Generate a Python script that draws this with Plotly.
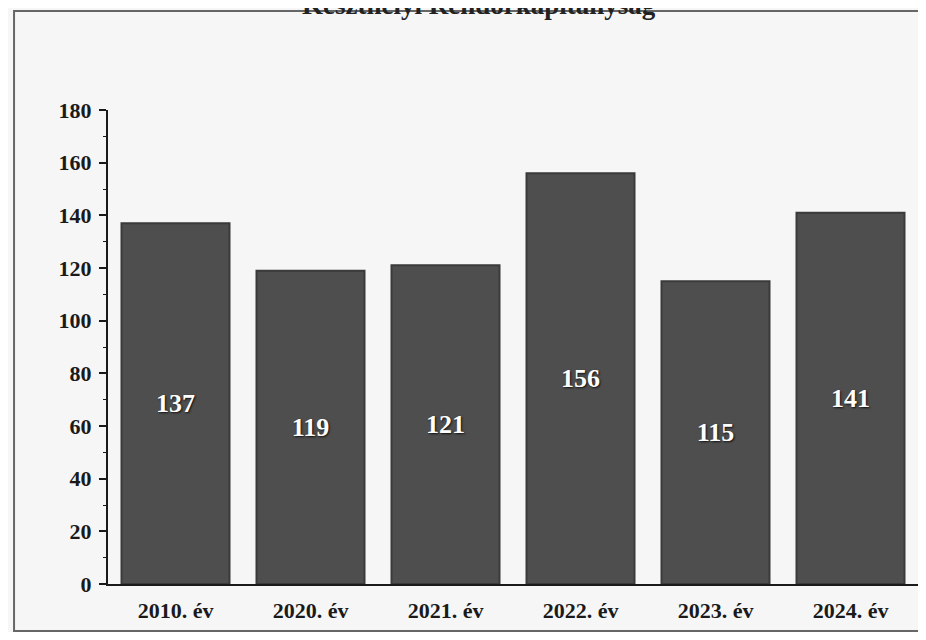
import plotly.graph_objects as go

categories = ["2010. év", "2020. év", "2021. év", "2022. év", "2023. év", "2024. év"]
values = [137, 119, 121, 156, 115, 141]
y_ticks = [0, 20, 40, 60, 80, 100, 120, 140, 160, 180]
title_text = "Keszthelyi Rendőrkapitányság"

serif = "Liberation Serif, Times New Roman, serif"

fig = go.Figure(
    go.Bar(
        x=categories,
        y=values,
        text=[str(v) for v in values],
        textposition="inside",
        insidetextanchor="middle",
        textangle=0,
        textfont=dict(family=serif, size=26, color="white", weight="bold",
                      shadow="1px 1px 2px #111"),
        marker=dict(color="#4e4e4e", line=dict(color="#3a3a3a", width=2)),
        hoverinfo="skip",
    )
)

fig.update_layout(
    width=912,
    height=624,
    margin=dict(l=100, r=2, t=102, b=48),
    paper_bgcolor="#f6f6f6",
    plot_bgcolor="rgba(0,0,0,0)",
    bargap=0.2,
    showlegend=False,
    font=dict(family=serif, color="#1a1a1a"),
)

fig.add_annotation(
    text=title_text, xref="paper", yref="paper", x=0.458, y=1.186,
    xanchor="center", yanchor="bottom", showarrow=False,
    font=dict(family=serif, size=27, color="#222", weight="bold"),
)

fig.update_xaxes(
    showline=True, linecolor="#1a1a1a", linewidth=2,
    ticks="", ticklabelstandoff=6,
    tickfont=dict(family=serif, size=22, weight="bold", color="#1a1a1a"),
    showgrid=False,
)
fig.update_yaxes(
    range=[0, 180],
    tickvals=y_ticks,
    showline=True, linecolor="#1a1a1a", linewidth=2,
    ticks="outside", ticklen=7, tickwidth=2, tickcolor="#1a1a1a",
    ticklabelstandoff=3,
    tickfont=dict(family=serif, size=22, weight="bold", color="#1a1a1a"),
    showgrid=False, zeroline=False,
    minor=dict(ticks="outside", ticklen=3, tickwidth=1, tickcolor="#1a1a1a", dtick=10),
)

fig.add_shape(type="rect", xref="paper", yref="paper",
              x0=-0.116, x1=1.03, y0=-0.0992, y1=1.2089,
              line=dict(color="#666", width=2), fillcolor="rgba(0,0,0,0)", layer="below")

fig.write_html("out.html")
